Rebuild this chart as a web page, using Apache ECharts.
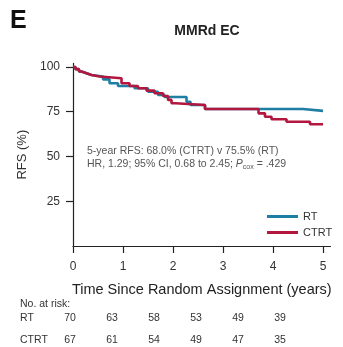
<!DOCTYPE html>
<html>
<head>
<meta charset="utf-8">
<script src="https://cdn.jsdelivr.net/npm/echarts@6/dist/echarts.min.js"></script>
<style>
  html, body { margin: 0; padding: 0; background: #fff; }
  #chart { width: 343px; height: 347px; }
</style>
</head>
<body>
<div id="chart"></div>
<script>
// KM steps [years, RFS %]
var rtCurve = [
    [0, 100], [0.05, 98.8], [0.12, 97.5], [0.17, 96.5], [0.27, 95.5], [0.37, 94.7],
    [0.6, 93.1], [0.73, 90.9], [0.9, 89.4], [1.23, 88.1], [1.5, 86.2], [1.7, 84.4],
    [1.83, 83.2], [2.27, 80.6], [2.35, 78.8], [2.64, 76.5], [4.6, 75.5], [5.0, 75.5]
];
var ctrtCurve = [
    [0, 100], [0.05, 98.8], [0.12, 97.5], [0.17, 96.5], [0.27, 95.5], [0.37, 94.7],
    [0.53, 93.7], [0.97, 90.9], [1.13, 89.4], [1.3, 88.1], [1.47, 86.8], [1.63, 85.3],
    [1.8, 83.8], [1.9, 81.6], [1.97, 79.7], [2.05, 78.8], [2.64, 76.5], [3.71, 74.1],
    [3.84, 72.2], [3.97, 70.8], [4.27, 69.4], [4.74, 68.0], [5.0, 68.0]
];
var xTicks = [0, 1, 2, 3, 4, 5];
var yTicks = [25, 50, 75, 100];
var rtRisk = [70, 63, 58, 53, 49, 39];
var ctrtRisk = [67, 61, 54, 49, 47, 35];

var FONT = 'Liberation Sans';
var BLUE = '#1f7ea3';
var RED = '#b3173d';

var myChart = echarts.init(document.getElementById('chart'));

// 风险人数表
var riskGraphics = [];
function riskRow(label, arr, y) {
    riskGraphics.push({
        type: 'text', left: 20, top: y,
        style: { text: label, font: '10.5px ' + FONT, fill: '#333' }
    });
    for (var i = 0; i < arr.length; i++) {
        riskGraphics.push({
            type: 'text', x: 70 + i * 42, y: y,
            style: { text: String(arr[i]), font: '10.5px ' + FONT, fill: '#333', align: 'center' }
        });
    }
}
riskRow('RT', rtRisk, 313);
riskRow('CTRT', ctrtRisk, 335);

myChart.setOption({
    animation: false,
    title: {
        text: 'MMRd EC',
        left: 202, top: 19,
        textAlign: 'center',
        textStyle: { fontFamily: FONT, fontSize: 14, fontWeight: 'bold', color: '#222' }
    },
    legend: {
        orient: 'vertical',
        left: 262, top: 206,
        icon: 'rect',
        itemWidth: 31, itemHeight: 3, itemGap: 5,
        textStyle: { fontFamily: FONT, fontSize: 11, color: '#333' },
        data: ['RT', 'CTRT']
    },
    grid: { left: 73, right: 12.5, top: 63.4, bottom: 101 },
    xAxis: {
        type: 'value',
        min: 0, max: 5.15,
        name: 'Time Since Random Assignment (years)',
        nameLocation: 'middle',
        nameGap: 36,
        nameTextStyle: { fontFamily: FONT, fontSize: 14.5, color: '#222' },
        axisLine: { lineStyle: { color: '#222', width: 1.2 } },
        axisTick: { show: true, length: 7, inside: false, customValues: xTicks, lineStyle: { color: '#222', width: 1.2 } },
        axisLabel: { customValues: xTicks, margin: 15, fontFamily: FONT, fontSize: 12, color: '#333' },
        splitLine: { show: false }
    },
    yAxis: {
        type: 'value',
        min: 0, max: 102,
        name: 'RFS (%)',
        nameLocation: 'middle',
        nameGap: 44,
        nameTextStyle: { fontFamily: FONT, fontSize: 13, color: '#333' },
        axisLine: { show: true, lineStyle: { color: '#222', width: 1.2 } },
        axisTick: { show: true, length: 7, customValues: yTicks, lineStyle: { color: '#222', width: 1.2 } },
        axisLabel: { customValues: yTicks, margin: 13, fontFamily: FONT, fontSize: 12, color: '#333' },
        splitLine: { show: false }
    },
    graphic: [
        {
            type: 'text', left: 10, top: 9,
            style: { text: 'E', font: 'bold 25px ' + FONT, fill: '#111' }
        },
        {
            type: 'text', left: 87, top: 146,
            style: {
                text: '5-year RFS: 68.0% (CTRT) v 75.5% (RT)',
                font: '10.5px ' + FONT, fill: '#555'
            }
        },
        {
            type: 'text', left: 87, top: 159,
            style: {
                text: '{a|HR, 1.29; 95% CI, 0.68 to 2.45; }{i|P}{s|cox}{a| = .429}',
                rich: {
                    a: { fontFamily: FONT, fontSize: 10.5, fill: '#555' },
                    i: { fontFamily: FONT, fontSize: 10.5, fontStyle: 'italic', fill: '#555' },
                    s: { fontFamily: FONT, fontSize: 7, fill: '#555', padding: [6, 0, 0, 0] }
                }
            }
        },
        {
            type: 'text', left: 20, top: 299,
            style: { text: 'No. at risk:', font: '10.5px ' + FONT, fill: '#333' }
        }
    ].concat(riskGraphics),
    series: [
        {
            name: 'RT',
            type: 'line',
            step: 'end',
            symbol: 'none',
            color: BLUE,
            lineStyle: { width: 2.6, color: BLUE },
            data: rtCurve,
            z: 2
        },
        {
            name: 'CTRT',
            type: 'line',
            step: 'end',
            symbol: 'none',
            color: RED,
            lineStyle: { width: 2.6, color: RED },
            data: ctrtCurve,
            z: 3
        }
    ]
});
</script>
</body>
</html>
